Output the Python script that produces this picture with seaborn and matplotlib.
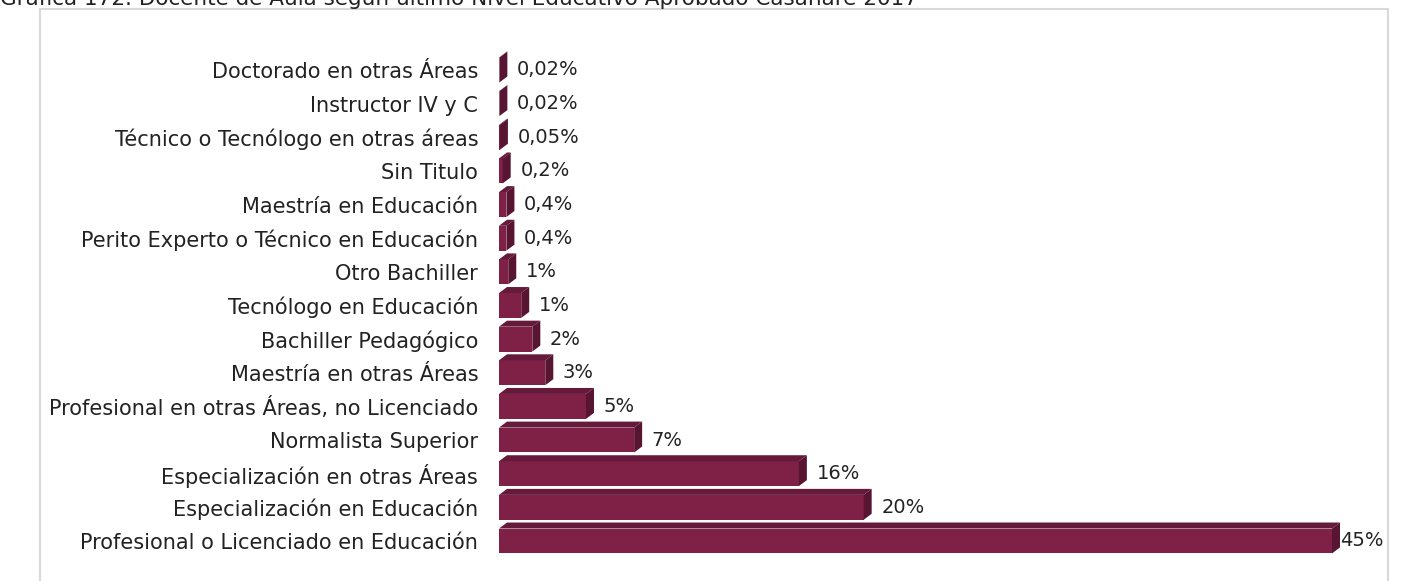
import matplotlib
matplotlib.use('Agg')
import matplotlib.pyplot as plt
from matplotlib.patches import Polygon, Rectangle
import seaborn as sns
import pandas as pd

niveles = ['Doctorado en otras Áreas', 'Instructor IV y C', 'Técnico o Tecnólogo en otras áreas',
           'Sin Titulo', 'Maestría en Educación', 'Perito Experto o Técnico en Educación',
           'Otro Bachiller', 'Tecnólogo en Educación', 'Bachiller Pedagógico',
           'Maestría en otras Áreas', 'Profesional en otras Áreas, no Licenciado',
           'Normalista Superior', 'Especialización en otras Áreas',
           'Especialización en Educación', 'Profesional o Licenciado en Educación']
porcentaje = [0.02, 0.02, 0.05, 0.2, 0.4, 0.4, 0.5, 1.2, 1.8, 2.5, 4.7, 7.3, 16.2, 19.7, 45.0]
etiquetas = ['0,02%', '0,02%', '0,05%', '0,2%', '0,4%', '0,4%', '1%', '1%', '2%', '3%',
             '5%', '7%', '16%', '20%', '45%']

titulo = 'Gráfica 172. Docente de Aula según último Nivel Educativo Aprobado Casanare 2017'

df = pd.DataFrame({'nivel': niveles, 'pct': porcentaje})

sns.set_style('white')
plt.rcParams['font.family'] = ['DejaVu Sans']

W, H = 1411, 581
fig = plt.figure(figsize=(W / 100, H / 100), dpi=100)

# marco gris del grafico
fig.patches.append(Rectangle((40 / W, -0.1), (1388 - 40) / W, 1 - 9 / H + 0.1,
                             transform=fig.transFigure, fill=False,
                             edgecolor='#D9D9D9', linewidth=1.5))
# titulo (en la imagen original aparece recortado por arriba)
fig.text(0.0, 1 - 5 / H, titulo, fontsize=15.5, ha='left', va='baseline', color='#222222')

ax_left, ax_right = 499, 1388
ax_top, ax_bot = 45, 570
ax = fig.add_axes([ax_left / W, 1 - ax_bot / H, (ax_right - ax_left) / W, (ax_bot - ax_top) / H])

frente = '#7F2046'
sns.barplot(data=df, x='pct', y='nivel', orient='h', color=frente, saturation=1,
            width=0.74, ax=ax, linewidth=0)

xmax = 45.0 * (ax_right - ax_left) / (1332 - ax_left)
ax.set_xlim(0, xmax)
fila = 33.64
ax.set_ylim((ax_bot - 70) / fila, (ax_top - 70) / fila)

# efecto 3D: caras superior y lateral
px_x = (ax_right - ax_left) / xmax
dx = 8 / px_x
dy = 6 / fila
for p in list(ax.patches):
    x0, y0 = p.get_x(), p.get_y()
    w, h = p.get_width(), p.get_height()
    top = y0  # borde superior (eje invertido)
    sup = Polygon([(x0, top), (x0 + dx, top - dy), (x0 + w + dx, top - dy), (x0 + w, top)],
                  closed=True, facecolor='#661A3B', edgecolor='none')
    lat = Polygon([(x0 + w, top), (x0 + w + dx, top - dy), (x0 + w + dx, top + h - dy), (x0 + w, top + h)],
                  closed=True, facecolor='#581532', edgecolor='none')
    ax.add_patch(sup)
    ax.add_patch(lat)

for i, (v, t) in enumerate(zip(porcentaje, etiquetas)):
    # la etiqueta de la barra mas larga queda pegada a la barra, como en el original
    off = 7 if v + dx < xmax * 0.9 else 0
    ax.annotate(t, (v + dx, i), xytext=(off, 0), textcoords='offset points',
                va='center', ha='left', fontsize=14, color='#222222')

ax.set_xlabel('')
ax.set_ylabel('')
ax.set_xticks([])
ax.tick_params(axis='y', length=0, pad=15, labelsize=15, labelcolor='#222222')
for s in ax.spines.values():
    s.set_visible(False)
ax.patch.set_alpha(0)

fig.savefig('out.png', dpi=100)
